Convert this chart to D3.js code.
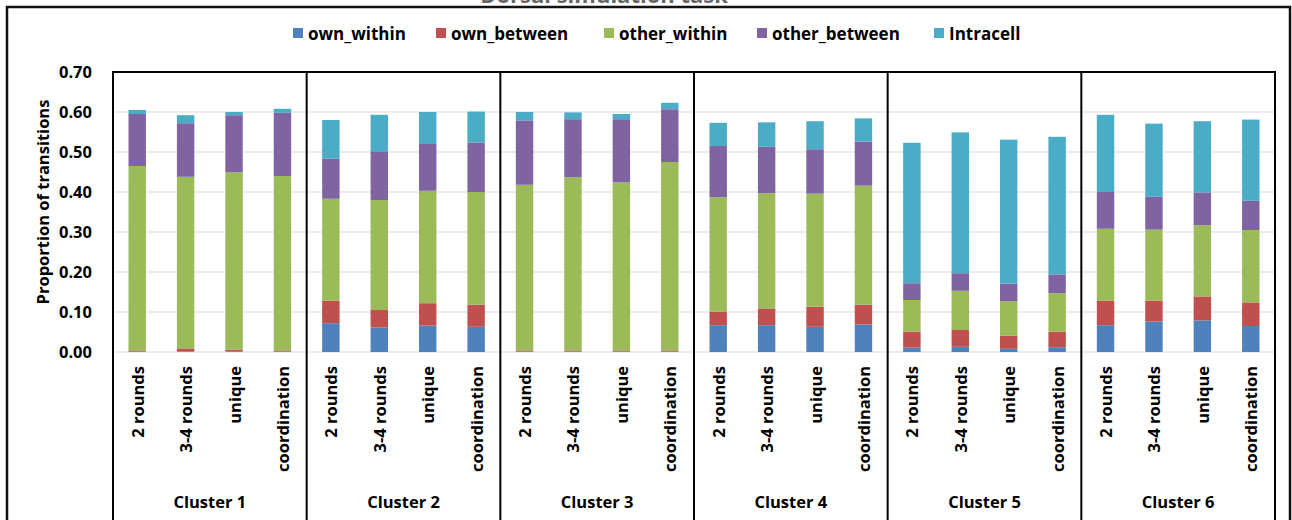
<!DOCTYPE html>
<html>
<head>
<meta charset="utf-8">
<script src="https://cdn.jsdelivr.net/npm/d3@7"></script>
<style>
  html, body { margin: 0; padding: 0; background: #fff; }
  svg { display: block; }
  text { font-family: "Open Sans", "Noto Sans", sans-serif; font-weight: 700; fill: #000; }
</style>
</head>
<body>
<svg id="chart" width="1292" height="520"></svg>
<script>
// Clusters and the four conditions inside each cluster
const clusters = ["Cluster 1", "Cluster 2", "Cluster 3", "Cluster 4", "Cluster 5", "Cluster 6"];
const conditions = ["2 rounds", "3-4 rounds", "unique", "coordination"];
const seriesNames = ["own_within", "own_between", "other_within", "other_between", "Intracell"];
const seriesColors = ["#4F81BD", "#C0504D", "#9BBB59", "#8064A2", "#4BACC6"];
const yTicks = [0, 0.1, 0.2, 0.3, 0.4, 0.5, 0.6, 0.7];

// Proportion of transitions per series, one row per cluster, one value per condition
const ownWithin = [
  [0.001, 0.001, 0.001, 0.001],
  [0.072, 0.061, 0.066, 0.063],
  [0.001, 0.001, 0.001, 0.001],
  [0.067, 0.067, 0.063, 0.069],
  [0.011, 0.013, 0.008, 0.012],
  [0.067, 0.076, 0.079, 0.065]
];
const ownBetween = [
  [0.003, 0.008, 0.005, 0.003],
  [0.056, 0.044, 0.056, 0.055],
  [0.003, 0.003, 0.003, 0.003],
  [0.034, 0.042, 0.050, 0.049],
  [0.040, 0.042, 0.033, 0.039],
  [0.061, 0.052, 0.060, 0.059]
];
const otherWithin = [
  [0.461, 0.429, 0.443, 0.436],
  [0.255, 0.275, 0.281, 0.282],
  [0.414, 0.433, 0.420, 0.471],
  [0.286, 0.288, 0.283, 0.298],
  [0.079, 0.098, 0.086, 0.096],
  [0.180, 0.178, 0.178, 0.181]
];
const otherBetween = [
  [0.130, 0.134, 0.143, 0.158],
  [0.100, 0.120, 0.117, 0.124],
  [0.161, 0.145, 0.158, 0.132],
  [0.128, 0.116, 0.111, 0.110],
  [0.042, 0.044, 0.044, 0.047],
  [0.092, 0.082, 0.082, 0.073]
];
const intracell = [
  [0.010, 0.020, 0.008, 0.010],
  [0.097, 0.093, 0.080, 0.077],
  [0.021, 0.017, 0.013, 0.016],
  [0.058, 0.061, 0.070, 0.058],
  [0.351, 0.352, 0.360, 0.344],
  [0.193, 0.183, 0.178, 0.203]
];

const seriesValues = [ownWithin, ownBetween, otherWithin, otherBetween, intracell];

// Flatten into one row per bar for the stack layout
const rows = [];
clusters.forEach((c, ci) => {
  conditions.forEach((cond, ki) => {
    const r = { cluster: c, condition: cond };
    seriesNames.forEach((s, si) => { r[s] = seriesValues[si][ci][ki]; });
    rows.push(r);
  });
});

const svg = d3.select("#chart");
const plot = { left: 113, right: 1275, top: 72, bottom: 352 };

const xCluster = d3.scaleBand().domain(clusters).range([plot.left, plot.right]).padding(0);
const xCond = d3.scaleBand().domain(conditions).range([0, xCluster.bandwidth()])
  .paddingInner(0.64).paddingOuter(0.32);
const y = d3.scaleLinear().domain([0, 0.7]).range([plot.bottom, plot.top]);
const color = d3.scaleOrdinal().domain(seriesNames).range(seriesColors);

// Title (runs off the top edge of the page)
svg.append("text")
  .attr("x", 604).attr("y", 3)
  .attr("text-anchor", "middle")
  .style("font-size", "22px")
  .style("fill", "#666")
  .text("Dorsal simulation task");

// Outer chart frame
svg.append("path")
  .attr("d", `M7,520 V7 H1290 V520`)
  .attr("fill", "none").attr("stroke", "#111").attr("stroke-width", 2.5);

// Horizontal gridlines
svg.append("g")
  .selectAll("line")
  .data(yTicks.slice(0, -1))
  .join("line")
  .attr("x1", plot.left).attr("x2", plot.right)
  .attr("y1", d => y(d)).attr("y2", d => y(d))
  .attr("stroke", "#d9d9d9").attr("stroke-width", 1.2);

// Y axis labels
const yAxis = d3.axisLeft(y).tickValues(yTicks).tickFormat(d3.format(".2f")).tickSize(0).tickPadding(21);
const gy = svg.append("g").attr("transform", `translate(${plot.left},0)`).call(yAxis);
gy.select(".domain").remove();
gy.selectAll("text").style("font-size", "16.5px").style("font-family", "'Open Sans', sans-serif").style("font-weight", 700).attr("fill", "#000");

// Y axis title
svg.append("text")
  .attr("transform", "translate(42,202) rotate(-90)")
  .attr("text-anchor", "middle")
  .attr("dominant-baseline", "central")
  .style("font-size", "16.5px")
  .text("Proportion of transitions");

// Stacked bars
const stack = d3.stack().keys(seriesNames);
const layers = stack(rows);
svg.append("g")
  .selectAll("g")
  .data(layers)
  .join("g")
  .attr("fill", d => color(d.key))
  .selectAll("rect")
  .data(d => d)
  .join("rect")
  .attr("x", d => xCluster(d.data.cluster) + xCond(d.data.condition))
  .attr("width", xCond.bandwidth())
  .attr("y", d => y(d[1]))
  .attr("height", d => y(d[0]) - y(d[1]));

// Condition labels, rotated
const condLabels = svg.append("g");
rows.forEach(r => {
  const cx = xCluster(r.cluster) + xCond(r.condition) + xCond.bandwidth() / 2;
  condLabels.append("text")
    .attr("transform", `translate(${cx},366) rotate(-90)`)
    .attr("text-anchor", "end")
    .attr("dominant-baseline", "central")
    .style("font-size", "16.5px")
    .text(r.condition);
});

// Cluster labels
svg.append("g")
  .selectAll("text")
  .data(clusters)
  .join("text")
  .attr("x", d => xCluster(d) + xCluster.bandwidth() / 2)
  .attr("y", 501)
  .attr("text-anchor", "middle")
  .attr("dominant-baseline", "central")
  .style("font-size", "16.5px")
  .text(d => d);

// Plot top edge and cluster dividers
svg.append("line")
  .attr("x1", plot.left).attr("x2", plot.right)
  .attr("y1", plot.top).attr("y2", plot.top)
  .attr("stroke", "#000").attr("stroke-width", 2);
const dividers = clusters.map(c => xCluster(c)).concat([plot.right]);
svg.append("g")
  .selectAll("line")
  .data(dividers)
  .join("line")
  .attr("x1", d => d).attr("x2", d => d)
  .attr("y1", plot.top - 1).attr("y2", 520)
  .attr("stroke", "#000").attr("stroke-width", 2);

// Legend
const legendX = [293, 436, 604, 757, 934];
const legend = svg.append("g");
seriesNames.forEach((s, i) => {
  const g = legend.append("g").attr("transform", `translate(${legendX[i]},28)`);
  g.append("rect").attr("width", 10).attr("height", 10).attr("fill", color(s));
  g.append("text")
    .attr("x", 15).attr("y", 5)
    .attr("dominant-baseline", "central")
    .style("font-size", "17px")
    .text(s);
});
</script>
</body>
</html>
